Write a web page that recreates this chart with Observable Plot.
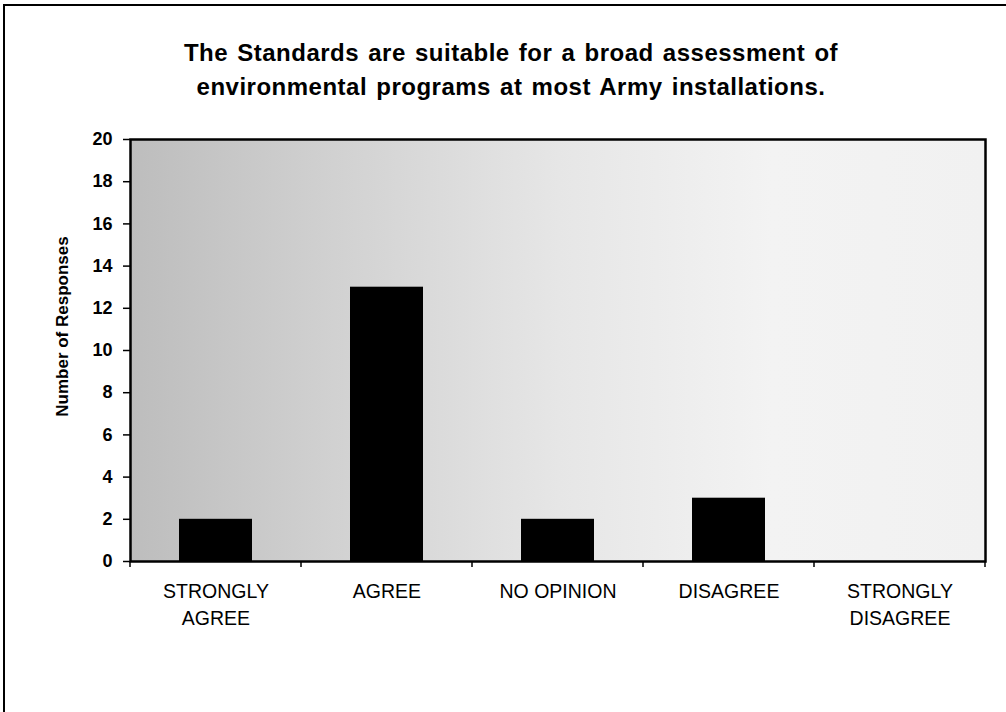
<!DOCTYPE html>
<html>
<head>
<meta charset="utf-8">
<script src="https://cdn.jsdelivr.net/npm/d3@7"></script>
<script src="https://cdn.jsdelivr.net/npm/@observablehq/plot@0.6"></script>
<style>
  html, body { margin: 0; padding: 0; background: white; }
  #wrap { position: relative; width: 1006px; height: 712px; overflow: hidden; font-family: "Liberation Sans", Arial, sans-serif; }
  #border { position: absolute; left: 3px; top: 4px; right: -10px; bottom: -10px; border-left: 2px solid #000; border-top: 2px solid #000; }
  #title { height: 120px; box-sizing: border-box; padding-top: 36px; text-align: center; font-weight: bold; font-size: 24px; letter-spacing: 0.5px; word-spacing: 2px; line-height: 34px; color: #000; padding-left: 16px; }
  #chart svg { display: block; }
  #chart g[aria-label="y-axis tick label"] { font-size: 18px; font-weight: bold; }
</style>
</head>
<body>
<div id="wrap">
  <div id="border"></div>
  <div id="title">The Standards are suitable for a broad assessment of<br>environmental programs at most Army installations.</div>
  <div id="chart"></div>
</div>
<script>
const categories = ["STRONGLY\nAGREE", "AGREE", "NO OPINION", "DISAGREE", "STRONGLY\nDISAGREE"];
const responses = [2, 13, 2, 3, 0];
const yTicks = [0, 2, 4, 6, 8, 10, 12, 14, 16, 18, 20];
const yLabel = "Number of Responses";

const data = categories.map((c, i) => ({category: c, value: responses[i]}));

const plot = Plot.plot({
  width: 1006,
  height: 592,
  marginLeft: 130,
  marginRight: 21,
  marginTop: 19,
  marginBottom: 151,
  style: {fontFamily: "'Liberation Sans', Arial, sans-serif", background: "transparent", color: "black", overflow: "visible"},
  x: {domain: categories, padding: 0, label: null},
  y: {domain: [0, 20], label: null},
  marks: [
    Plot.frame({fill: "url(#bgGrad)"}),
    Plot.barY(data, {x: "category", y: "value", fill: "black", insetLeft: 49, insetRight: 49}),
    Plot.frame({stroke: "black", strokeWidth: 2.5}),
    Plot.axisY({ticks: yTicks, tickSize: 7, tickPadding: 11, fontSize: 18, fontWeight: "bold", label: null, strokeWidth: 1.5}),
    Plot.axisX({tickSize: 0, tickPadding: 17, fontSize: 19.5, label: null, lineHeight: 1.4}),
    Plot.text([yLabel], {frameAnchor: "left", dx: -68, dy: -24, rotate: -90, textAnchor: "middle", fontSize: 17, fontWeight: "bold", fill: "black"})
  ]
});

const svg = d3.select(plot);
svg.selectAll('g[aria-label="y-axis tick label"]').attr("font-size", 18).attr("font-weight", "bold");
const defs = svg.insert("defs", ":first-child");
const grad = defs.append("linearGradient").attr("id", "bgGrad").attr("x1", "0").attr("x2", "1").attr("y1", "0").attr("y2", "0");
[[0, "#bdbdbd"], [0.25, "#d2d2d2"], [0.5, "#e6e6e6"], [0.75, "#f3f3f3"], [1, "#f1f1f1"]]
  .forEach(([o, c]) => grad.append("stop").attr("offset", o).attr("stop-color", c));

// category boundary ticks below the x axis
const xs = plot.scale("x");
const bounds = categories.map(c => xs.apply(c)).concat([xs.apply(categories[categories.length - 1]) + xs.bandwidth]);
const yBase = 592 - 151;
const g = svg.append("g").attr("stroke", "black").attr("stroke-width", 1.5);
bounds.forEach(bx => g.append("line").attr("x1", bx).attr("x2", bx).attr("y1", yBase).attr("y2", yBase + 6));

document.getElementById("chart").appendChild(plot);
</script>
</body>
</html>
